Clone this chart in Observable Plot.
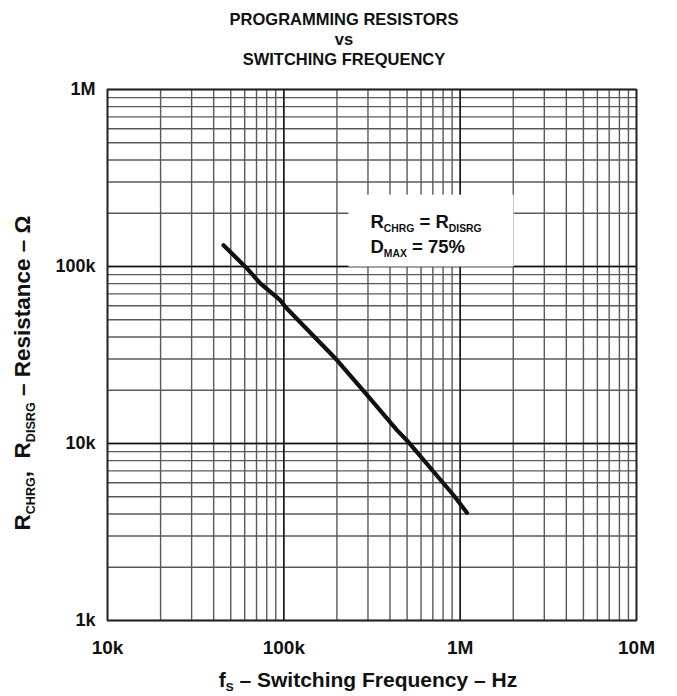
<!DOCTYPE html>
<html>
<head>
<meta charset="utf-8">
<script src="https://cdn.jsdelivr.net/npm/d3@7"></script>
<script src="https://cdn.jsdelivr.net/npm/@observablehq/plot@0.6"></script>
<style>
  body { margin: 0; background: #fff; }
  #chart svg { display: block; }
</style>
</head>
<body>
<div id="chart"></div>
<script>
// ---- data ----
const freqHz        = [45500, 61800, 73500, 95400, 104000, 200000, 296000, 438000, 499000, 918000, 1093000];
const resistanceOhm = [132000, 97500, 80200, 64500, 57900, 29600, 18800, 11900, 10400, 5100, 4060];

const xTickValues = [1e4, 1e5, 1e6, 1e7];
const xTickLabels = ["10k", "100k", "1M", "10M"];
const yTickValues = [1e3, 1e4, 1e5, 1e6];
const yTickLabels = ["1k", "10k", "100k", "1M"];
const mantissas   = [1, 2, 3, 4, 5, 6, 7, 8, 9];

const titleLines = ["PROGRAMMING RESISTORS", "vs", "SWITCHING FREQUENCY"];
const xLabel = "f_{S} – Switching Frequency – Hz";
const yLabel = "R_{CHRG},  R_{DISRG} – Resistance – Ω";
const noteLines = ["R_{CHRG} = R_{DISRG}", "D_{MAX} = 75%"];

// ---- derived tables ----
const curve = freqHz.map((f, i) => ({f, r: resistanceOhm[i]}));
const decadeGrid = (majors) => majors.slice(0, -1).flatMap(m => mantissas.map(k => k * m)).concat(majors.slice(-1));
const gridX = decadeGrid(xTickValues);
const gridY = decadeGrid(yTickValues);

const FONT = '"Liberation Sans", Arial, Helvetica, sans-serif';

const plot = Plot.plot({
  width: 677,
  height: 696,
  marginLeft: 107,
  marginRight: 41,
  marginTop: 89,
  marginBottom: 76,
  style: {fontFamily: FONT, fontWeight: "bold", color: "#111", background: "#fff"},
  x: {type: "log", domain: [xTickValues[0], xTickValues[xTickValues.length - 1]]},
  y: {type: "log", domain: [yTickValues[0], yTickValues[yTickValues.length - 1]]},
  marks: [
    Plot.ruleX(gridX, {stroke: "#5a5a5a", strokeWidth: 1.4}),
    Plot.ruleY(gridY, {stroke: "#5a5a5a", strokeWidth: 1.4}),
    Plot.ruleX(xTickValues, {stroke: "#111", strokeWidth: 1.4}),
    Plot.ruleY(yTickValues, {stroke: "#111", strokeWidth: 1.4}),
    Plot.line(curve, {x: "f", y: "r", stroke: "#111", strokeWidth: 4.2, strokeLinejoin: "round"}),
    Plot.text([noteLines[0]], {text: d => d, x: 3.1e5, y: 1.79e5, textAnchor: "start", fontSize: 18.5, fontWeight: "bold", fill: "#111"}),
    Plot.text([noteLines[1]], {text: d => d, x: 3.1e5, y: 1.295e5, textAnchor: "start", fontSize: 18.5, fontWeight: "bold", fill: "#111"}),
    Plot.frame({stroke: "#222", strokeWidth: 1.5}),
    Plot.axisX({ticks: xTickValues, tickFormat: d => xTickLabels[xTickValues.indexOf(d)], tickSize: 0, tickPadding: 20, fontSize: 19, fontWeight: "bold", label: null}),
    Plot.axisY({ticks: yTickValues, tickFormat: d => yTickLabels[yTickValues.indexOf(d)], tickSize: 0, tickPadding: 12, fontSize: 18, fontWeight: "bold", label: null}),
    Plot.text([titleLines.join("\n")], {text: d => d, frameAnchor: "top", lineAnchor: "top", dy: -79, dx: -28, lineHeight: 1.22, fontSize: 16.5, fontWeight: "bold", fill: "#111"}),
    Plot.text([xLabel], {text: d => d, frameAnchor: "bottom", dy: 66, dx: -4, fontSize: 21, fontWeight: "bold", fill: "#111"}),
    Plot.text([yLabel], {text: d => d, frameAnchor: "left", textAnchor: "middle", rotate: -90, dx: -85, dy: 18, fontSize: 22.5, fontWeight: "bold", fill: "#111"})
  ]
});

document.getElementById("chart").appendChild(plot);

// ---- subscripts: turn "_{...}" into smaller, lowered tspans ----
const SVGNS = "http://www.w3.org/2000/svg";
function subscriptify(el) {
  const s = el.textContent;
  if (!s.includes("_{")) return false;
  const fs = parseFloat(getComputedStyle(el).fontSize) || 16;
  const subSize = fs * 0.56;
  const shift = fs * 0.22;
  el.textContent = "";
  let pending = 0;
  s.split(/(_\{[^}]*\})/).forEach(p => {
    if (!p) return;
    const ts = document.createElementNS(SVGNS, "tspan");
    if (p.startsWith("_{")) {
      ts.textContent = p.slice(2, -1);
      ts.setAttribute("font-size", subSize);
      ts.setAttribute("dy", shift + pending);
      pending = -shift;
    } else {
      ts.textContent = p;
      if (pending) ts.setAttribute("dy", pending);
      pending = 0;
    }
    el.appendChild(ts);
  });
  return true;
}
const noteTexts = [];
plot.querySelectorAll("text").forEach(t => {
  const raw = t.textContent;
  const tsp = t.querySelectorAll("tspan");
  if (tsp.length) tsp.forEach(subscriptify); else subscriptify(t);
  if (noteLines.includes(raw)) noteTexts.push(t);
});

// ---- white box behind the note, sized from the note's own text ----
if (noteTexts.length) {
  const pad = {left: 22, right: 32, top: 16, bottom: 8};
  const sr = plot.getBoundingClientRect();
  let x0 = Infinity, y0 = Infinity, x1 = -Infinity, y1 = -Infinity;
  noteTexts.forEach(t => {
    const r = t.getBoundingClientRect();
    x0 = Math.min(x0, r.left - sr.left); y0 = Math.min(y0, r.top - sr.top);
    x1 = Math.max(x1, r.right - sr.left); y1 = Math.max(y1, r.bottom - sr.top);
  });
  const rect = document.createElementNS(SVGNS, "rect");
  rect.setAttribute("x", x0 - pad.left);
  rect.setAttribute("y", y0 - pad.top);
  rect.setAttribute("width", (x1 - x0) + pad.left + pad.right);
  rect.setAttribute("height", (y1 - y0) + pad.top + pad.bottom);
  rect.setAttribute("fill", "#fff");
  const g = noteTexts[0].closest("g");
  g.parentNode.insertBefore(rect, g);
}
</script>
</body>
</html>
